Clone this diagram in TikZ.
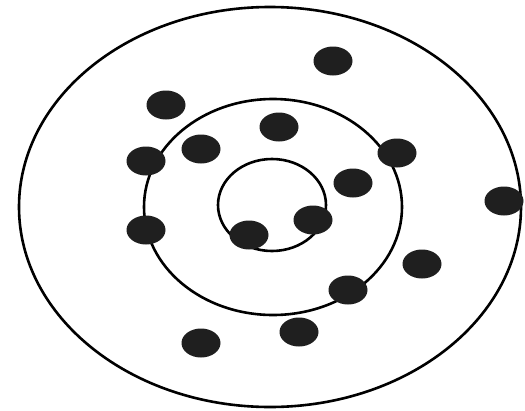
\documentclass[tikz,border=0pt]{standalone}
\usetikzlibrary{shapes.geometric}
\begin{document}
\begin{tikzpicture}[x=1pt,y=-1pt,
  ring/.style={draw=black,line width=2.6pt},
  dot/.style={ellipse,fill=black!88,inner sep=0pt,minimum width=39pt,minimum height=29pt}]
\useasboundingbox (0,0) rectangle (525,410);
\fill[white] (0,0) rectangle (525,410);
\draw[ring] (270,207) ellipse [x radius=251,y radius=200];
\draw[ring] (273,207) ellipse [x radius=129,y radius=108];
\draw[ring] (272,205) ellipse [x radius=54,y radius=46];
\node[dot] (d1) at (333,61) {};
\node[dot] (d2) at (166,105) {};
\node[dot] (d3) at (279,127) {};
\node[dot] (d4) at (201,149) {};
\node[dot] (d5) at (146,161) {};
\node[dot] (d6) at (397,153) {};
\node[dot] (d7) at (353,183) {};
\node[dot] (d8) at (504,201) {};
\node[dot] (d9) at (313,220) {};
\node[dot] (d10) at (249,235) {};
\node[dot] (d11) at (146,230) {};
\node[dot] (d12) at (422,264) {};
\node[dot] (d13) at (348,290) {};
\node[dot] (d14) at (299,332) {};
\node[dot] (d15) at (201,343) {};
\end{tikzpicture}
\end{document}
